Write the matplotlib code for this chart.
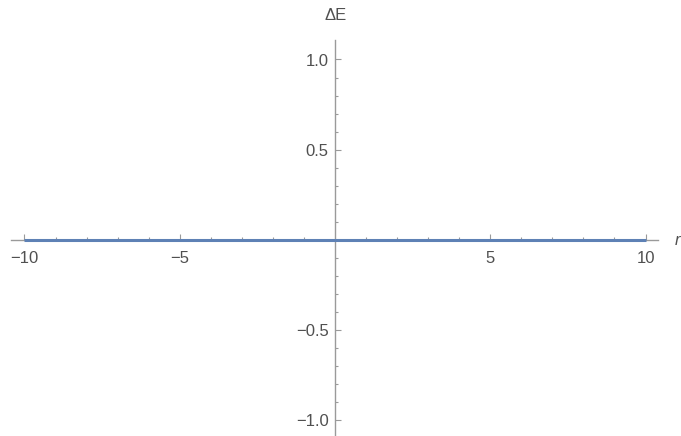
import numpy as np
import matplotlib
matplotlib.use("Agg")
import matplotlib.pyplot as plt
from matplotlib.ticker import FixedLocator

# data
r_values = [-10, 10]
dE_values = [0.0, 0.0]
x_major = [-10, -5, 5, 10]
x_major_labels = ["\u221210", "\u22125", "5", "10"]
y_major = [-1.0, -0.5, 0.5, 1.0]
y_major_labels = ["\u22121.0", "\u22120.5", "0.5", "1.0"]

plt.rcParams['font.family'] = ['Liberation Sans', 'DejaVu Sans']

W, H = 681, 436
fig = plt.figure(figsize=(W / 100, H / 100), dpi=100)
ax = fig.add_axes([0, 0, 1, 1])
ax.patch.set_alpha(0)

x0px, xs = 335.0, 31.05   # pixel of x=0, px per unit
y0px, ys = 239.75, 180.25
ax.set_xlim((0 - x0px) / xs, (W - x0px) / xs)
ax.set_ylim((y0px - H) / ys, (y0px - 0) / ys)

ax.plot(r_values, dE_values, color="#5E81B5", lw=2.2, solid_capstyle="butt", zorder=3)

axis_col = "#9a9a9a"
for s in ["top", "right"]:
    ax.spines[s].set_visible(False)
ax.spines["left"].set_position(("data", 0))
ax.spines["bottom"].set_position(("data", 0))
ax.spines["left"].set_color(axis_col)
ax.spines["bottom"].set_color(axis_col)
ax.spines["left"].set_linewidth(1.0)
ax.spines["bottom"].set_linewidth(1.0)
ax.spines["bottom"].set_bounds((11 - x0px) / xs, (658 - x0px) / xs)
ax.spines["left"].set_bounds((y0px - H) / ys, (y0px - 40) / ys)

ax.xaxis.set_major_locator(FixedLocator(x_major))
ax.set_xticklabels(x_major_labels)
ax.xaxis.set_minor_locator(FixedLocator([v for v in range(-10, 11) if v not in (0, -10, -5, 5, 10)]))
ax.yaxis.set_major_locator(FixedLocator(y_major))
ax.set_yticklabels(y_major_labels)
ax.yaxis.set_minor_locator(FixedLocator([round(v / 10, 1) for v in range(-10, 11) if v % 5 != 0]))

lab_col = "#505050"
ax.tick_params(axis="both", which="both", direction="in", color=axis_col, width=0.8,
               labelcolor=lab_col, labelsize=12)
ax.tick_params(axis="x", which="major", length=4.5, pad=8)
ax.tick_params(axis="x", which="minor", length=2.5)
ax.tick_params(axis="y", which="major", length=4.5, pad=4.5)
ax.tick_params(axis="y", which="minor", length=2.5)

fig.text(336 / W, 1 - 15 / H, "\u0394E", ha="center", va="center", color=lab_col, fontsize=12)
fig.text(677 / W, 1 - 240 / H, "r", ha="center", va="center", color=lab_col, fontsize=12,
         style="italic")

fig.savefig("out.png", dpi=100)
